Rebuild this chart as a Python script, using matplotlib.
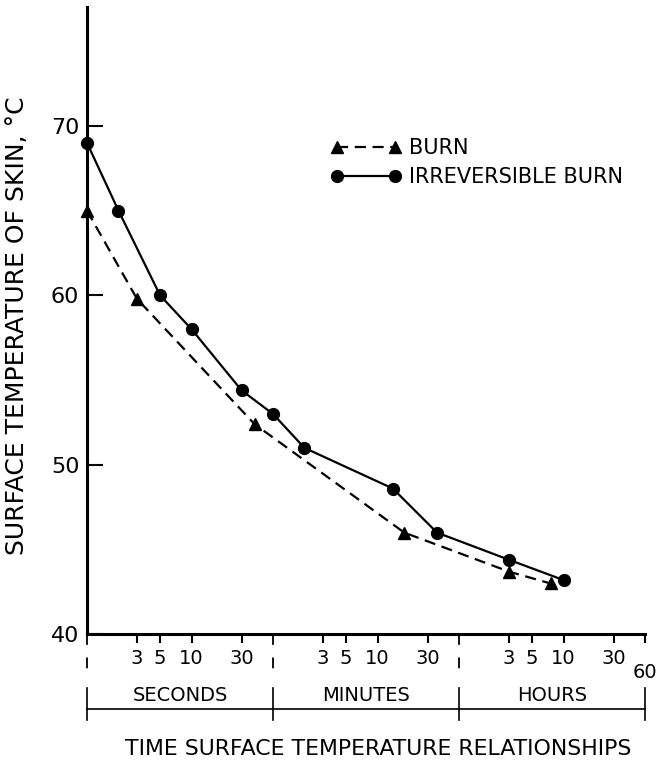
import matplotlib
matplotlib.use('Agg')
import matplotlib.pyplot as plt
from matplotlib.ticker import NullLocator
from matplotlib.transforms import blended_transform_factory, ScaledTranslation
import numpy as np

# ---- data (time in seconds, temperature in °C) ----
irrev_time_s = [1, 2, 5, 10, 30, 60, 120, 840, 2220, 10800, 36000]
irrev_temp = [69, 65, 60, 58, 54.4, 53, 51, 48.6, 46, 44.4, 43.2]

burn_time_s = [1, 3, 40, 1080, 10800, 27000]
burn_temp = [65, 59.8, 52.4, 46, 43.7, 43]

x_tick_values = [3, 5, 10, 30, 180, 300, 600, 1800,
                 10800, 18000, 36000, 108000, 216000]
x_tick_labels = ['3', '5', '10', '30', '3', '5', '10', '30',
                 '3', '5', '10', '30', '60']
unit_bounds = [1, 60, 3600, 216000]
unit_names = ['SECONDS', 'MINUTES', 'HOURS']
y_ticks = [40, 50, 60, 70]

plt.rcParams['font.family'] = ['DejaVu Sans']

fig = plt.figure(figsize=(6.6, 7.61), dpi=100)
ax = fig.add_axes([87 / 660, 1 - 634.3 / 761, 558 / 660, (634.3 - 7.3) / 761])
ax.set_xscale('log')
ax.set_xlim(unit_bounds[0], unit_bounds[-1])
ax.set_ylim(40, 77)

ax.plot(burn_time_s, burn_temp, color='black', lw=1.6, ls=(0, (5, 3)),
        marker='^', ms=8, clip_on=False, label='BURN', zorder=3)
ax.plot(irrev_time_s, irrev_temp, color='black', lw=1.6, ls='-',
        marker='o', ms=8.5, clip_on=False, label='IRREVERSIBLE BURN', zorder=3)

for s in ['top', 'right']:
    ax.spines[s].set_visible(False)
for s in ['left', 'bottom']:
    ax.spines[s].set_linewidth(2.2)

ax.xaxis.set_minor_locator(NullLocator())
ax.set_xticks(x_tick_values, x_tick_labels)
ax.set_yticks(y_ticks)
ax.tick_params(axis='x', direction='out', length=6.5, width=1.5, pad=4, labelsize=14)
ax.tick_params(axis='y', direction='in', length=11.5, width=1.5, pad=5.5, labelsize=16)

lbl = ax.get_xticklabels()[-1]
lbl.set_transform(lbl.get_transform() + ScaledTranslation(0, -10 / 72, fig.dpi_scale_trans))

trans = blended_transform_factory(ax.transData, ax.transAxes)
for b in unit_bounds[:-1]:
    ax.plot([b, b], [0, -0.069], transform=trans, color='black', lw=1.3,
            ls=(0, (6, 7)), clip_on=False)
for b in unit_bounds:
    ax.plot([b, b], [-0.0855, -0.137], transform=trans, color='black', lw=1.2,
            clip_on=False)
ax.plot([unit_bounds[0], unit_bounds[-1]], [-0.119, -0.119], transform=trans,
        color='black', lw=1.2, clip_on=False)
for i, name in enumerate(unit_names):
    xc = np.sqrt(unit_bounds[i] * unit_bounds[i + 1])
    ax.text(xc, -0.0984, name, transform=trans, ha='center', va='center', fontsize=14)

ax.set_ylabel('SURFACE TEMPERATURE OF SKIN, °C', fontsize=18)
ax.yaxis.label.set_va('center')
ax.yaxis.set_label_coords(-(87 - 17) / 558, (634.3 - 326) / 627)

fig.text(378 / 660, 1 - 749 / 761, 'TIME SURFACE TEMPERATURE RELATIONSHIPS',
         ha='center', va='center', fontsize=15.8)

ax.legend(loc='upper left', bbox_to_anchor=(0.437, 0.7916), frameon=False,
          numpoints=2, handlelength=3.4, handletextpad=0.33, labelspacing=0.45,
          fontsize=15, borderpad=0, borderaxespad=0)

fig.savefig('out.png', dpi=100)
